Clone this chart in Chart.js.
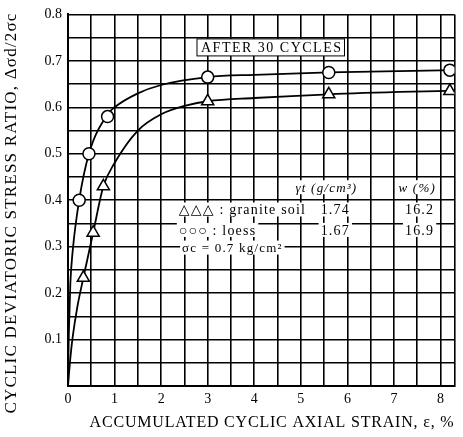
<!DOCTYPE html>
<html>
<head>
<meta charset="utf-8">
<script src="https://cdn.jsdelivr.net/npm/chart.js@4"></script>
<style>
  html, body { margin: 0; padding: 0; background: #fff; }
  #wrap { width: 463px; height: 437px; }
</style>
</head>
<body>
<div id="wrap"><canvas id="myChart" width="463" height="437"></canvas></div>
<script>
// measured points (markers)
var loessStrain = [0.24, 0.45, 0.85, 3.0, 5.6, 8.2];
var loessRatio = [0.40, 0.50, 0.58, 0.665, 0.675, 0.68];
var graniteStrain = [0.33, 0.54, 0.76, 3.0, 5.6, 8.2];
var graniteRatio = [0.233, 0.33, 0.43, 0.613, 0.628, 0.635];

// hand drawn curves
var loessCurveX = [0, 0.02, 0.05, 0.1, 0.24, 0.45, 0.85, 1.0, 1.5, 2.0, 3.0, 4.0, 5.6, 8.3];
var loessCurveY = [0.02, 0.12, 0.22, 0.29, 0.40, 0.50, 0.585, 0.60, 0.63, 0.648, 0.665, 0.67, 0.675, 0.68];
var graniteCurveX = [0.0, 0.05, 0.1, 0.2, 0.33, 0.54, 0.76, 1.0, 1.5, 2.0, 2.5, 3.0, 4.0, 5.6, 8.3];
var graniteCurveY = [0.0, 0.06, 0.105, 0.17, 0.233, 0.33, 0.43, 0.48, 0.55, 0.585, 0.603, 0.613, 0.62, 0.628, 0.636];

// grid / tick positions on the strain axis
var xTicks = [0, 0.5, 1, 1.5, 2, 2.5, 3, 3.5, 4, 4.5, 5, 5.5, 6, 6.5, 7, 7.5, 8, 8.3];

// axis titles and legend table text
var xTitle = "ACCUMULATED CYCLIC AXIAL STRAIN, ε, %";
var yTitle = "CYCLIC DEVIATORIC STRESS RATIO, Δσd/2σc";
var tableHeader = ["γt (g/cm³)", "w (%)"];
var tableRows = [
  ["△△△ : granite soil", "1.74", "16.2"],
  ["○○○ : loess", "1.67", "16.9"]
];
var tableNote = "σc = 0.7 kg/cm²";
var noteText = "AFTER 30 CYCLES";

function pairs(xs, ys) {
  return xs.map(function (x, i) { return { x: x, y: ys[i] }; });
}

var serif = "'Liberation Serif', 'DejaVu Serif', serif";

var textPlugin = {
  id: "texts",
  afterDatasetsDraw: function (chart) {
    var ctx = chart.ctx;
    var xs = chart.scales.x, ys = chart.scales.y;
    ctx.save();
    ctx.textBaseline = "middle";

    // AFTER 30 CYCLES box
    ctx.font = "14px " + serif;
    ctx.letterSpacing = "1.5px";
    var bx = xs.getPixelForValue(2.77), by = ys.getPixelForValue(0.73);
    var w = ctx.measureText(noteText).width + 6;
    ctx.fillStyle = "#fff";
    ctx.fillRect(bx, by - 8, w, 17);
    ctx.strokeStyle = "#000";
    ctx.lineWidth = 1;
    ctx.strokeRect(bx, by - 8, w, 17);
    ctx.fillStyle = "#000";
    ctx.textAlign = "left";
    ctx.fillText(noteText, bx + 4, by + 1);

    function label(t, x, y, align, font) {
      ctx.font = font || ("14px " + serif);
      ctx.textAlign = align;
      var tw = ctx.measureText(t).width;
      var px = xs.getPixelForValue(x), py = ys.getPixelForValue(y);
      var lx = align === "left" ? px : align === "right" ? px - tw : px - tw / 2;
      ctx.fillStyle = "#fff";
      ctx.fillRect(lx - 2, py - 7, tw + 4, 14);
      ctx.fillStyle = "#000";
      ctx.fillText(t, px, py + 1);
    }
    ctx.letterSpacing = "1.2px";
    label(tableHeader[0], 5.55, 0.428, "center", "italic 13px " + serif);
    label(tableHeader[1], 7.5, 0.428, "center", "italic 13px " + serif);
    label(tableRows[0][0], 2.38, 0.38, "left");
    label(tableRows[0][1], 5.74, 0.38, "center");
    label(tableRows[0][2], 7.55, 0.38, "center");
    label(tableRows[1][0], 2.38, 0.336, "left");
    label(tableRows[1][1], 5.74, 0.336, "center");
    label(tableRows[1][2], 7.55, 0.336, "center");
    label(tableNote, 2.45, 0.298, "left", "13px " + serif);
    ctx.restore();
  },
  afterDraw: function (chart) {
    var ctx = chart.ctx;
    ctx.save();
    ctx.fillStyle = "#000";
    ctx.textAlign = "center";
    ctx.textBaseline = "middle";
    ctx.font = "16px " + serif;
    ctx.letterSpacing = "0.8px";
    ctx.fillText(xTitle, 272, 423);
    ctx.translate(12, 213);
    ctx.rotate(-Math.PI / 2);
    ctx.font = "17px " + serif;
    ctx.letterSpacing = "1.2px";
    ctx.fillText(yTitle, 0, 0);
    ctx.restore();
  }
};

var ctx = document.getElementById("myChart").getContext("2d");
var myChart = new Chart(ctx, {
  type: "scatter",
  data: {
    datasets: [
      {
        label: "loess curve",
        data: pairs(loessCurveX, loessCurveY),
        showLine: true,
        borderColor: "#000",
        borderWidth: 1.8,
        pointRadius: 0,
        cubicInterpolationMode: "monotone",
        order: 3
      },
      {
        label: "granite curve",
        data: pairs(graniteCurveX, graniteCurveY),
        showLine: true,
        borderColor: "#000",
        borderWidth: 1.8,
        pointRadius: 0,
        cubicInterpolationMode: "monotone",
        order: 3
      },
      {
        label: "loess",
        data: pairs(loessStrain, loessRatio),
        pointStyle: "circle",
        pointRadius: 6,
        backgroundColor: "#fff",
        borderColor: "#000",
        borderWidth: 1.5,
        order: 1
      },
      {
        label: "granite soil",
        data: pairs(graniteStrain, graniteRatio),
        pointStyle: "triangle",
        pointRadius: 7,
        backgroundColor: "#fff",
        borderColor: "#000",
        borderWidth: 1.5,
        order: 1
      }
    ]
  },
  options: {
    responsive: false,
    animation: false,
    layout: { padding: { left: 4, right: -4, top: 12, bottom: 4 } },
    plugins: {
      legend: { display: false },
      tooltip: { enabled: false }
    },
    scales: {
      x: {
        type: "linear",
        min: 0,
        max: 8.3,
        afterFit: function (s) { s.height = 47; },
        afterBuildTicks: function (s) {
          s.ticks = xTicks.map(function (v) { return { value: v }; });
        },
        grid: { color: "#000", lineWidth: 1.6, drawTicks: false },
        border: { color: "#000", width: 2 },
        ticks: {
          autoSkip: false,
          maxRotation: 0,
          padding: 5,
          color: "#000",
          font: { family: serif, size: 14 },
          callback: function (v) {
            return Math.abs(v - Math.round(v)) < 1e-6 ? String(Math.round(v)) : "";
          }
        }
      },
      y: {
        type: "linear",
        min: 0,
        max: 0.8,
        afterFit: function (s) { s.width = 64; },
        grid: { color: "#000", lineWidth: 1.6, drawTicks: false },
        border: { color: "#000", width: 2 },
        ticks: {
          stepSize: 0.05,
          autoSkip: false,
          padding: 6,
          color: "#000",
          font: { family: serif, size: 14 },
          callback: function (v) {
            var t = v * 10;
            if (v > 0 && Math.abs(t - Math.round(t)) < 1e-6) return (Math.round(t) / 10).toFixed(1);
            return "";
          }
        }
      }
    }
  },
  plugins: [textPlugin]
});
</script>
</body>
</html>
